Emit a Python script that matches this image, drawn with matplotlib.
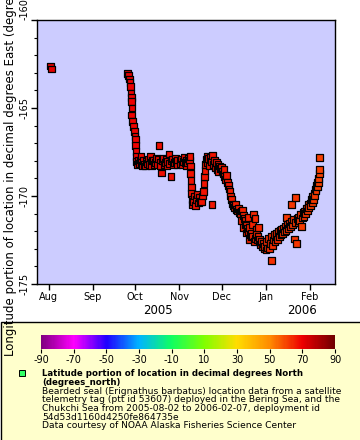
import pandas as pd
import matplotlib
matplotlib.use('Agg')
import matplotlib.pyplot as plt
from matplotlib.colors import LinearSegmentedColormap, Normalize
from matplotlib.cm import ScalarMappable
from matplotlib.patches import Rectangle
from matplotlib.lines import Line2D
from matplotlib.ticker import MultipleLocator

plt.rcParams['axes.unicode_minus'] = False

# track points per month: (day of month, longitude east, latitude north)
aug_pts = [(2.5, -162.61, 71.3), (2.7, -162.78, 71.2)]

sep_pts = [(25.6, -163.03, 70.6), (26.3, -163.15, 70.5), (26.9, -163.35, 70.4), (27.3, -163.55, 70.3),
           (27.6, -163.8, 70.2), (27.9, -164.15, 70.1), (28.2, -164.4, 70.0), (28.4, -164.65, 69.9),
           (28.6, -165.0, 69.8), (28.1, -165.4, 69.7), (29.2, -165.78, 69.6), (29.6, -166.06, 69.5),
           (30.3, -166.35, 69.4), (30.7, -166.6, 69.3)]

oct_pts = [(1.0, -166.8, 69.2), (1.3, -167.14, 69.1), (1.4, -167.48, 69.0), (1.5, -167.77, 69.0),
           (1.9, -168.05, 68.9), (2.5, -168.2, 68.9), (3.1, -168.0, 68.8), (3.7, -168.15, 68.9),
           (4.3, -167.95, 68.8), (5.0, -167.73, 68.7), (5.6, -168.1, 68.8), (6.2, -168.25, 68.7),
           (6.8, -168.0, 68.8), (7.4, -168.2, 68.7), (8.0, -168.3, 68.6), (8.7, -168.05, 68.7),
           (9.3, -168.15, 68.6), (9.9, -167.9, 68.7), (10.6, -168.2, 68.6), (11.4, -167.77, 68.5),
           (12.0, -168.1, 68.6), (12.6, -168.25, 68.5), (13.2, -168.0, 68.6), (13.9, -167.95, 68.5),
           (14.5, -168.2, 68.4), (15.1, -168.1, 68.5), (15.8, -167.85, 68.4), (16.4, -168.2, 68.5),
           (17.0, -167.9, 68.4), (17.7, -167.14, 68.2), (18.3, -168.1, 68.4), (18.9, -168.3, 68.3),
           (19.6, -168.69, 68.1), (20.2, -168.0, 68.3), (20.8, -167.85, 68.4), (21.4, -168.2, 68.3),
           (22.0, -168.1, 68.2), (22.7, -167.9, 68.3), (23.3, -168.25, 68.2), (23.9, -168.05, 68.3),
           (24.7, -167.61, 68.1), (25.3, -168.15, 68.2), (26.1, -168.9, 68.0), (26.6, -168.0, 68.2),
           (27.2, -167.9, 68.1), (27.8, -168.2, 68.2), (28.4, -168.1, 68.1), (29.0, -167.85, 68.0),
           (29.7, -168.05, 68.1), (30.3, -168.2, 68.0), (30.9, -167.95, 68.0)]

nov_pts = [(1.4, -168.0, 67.9), (2.0, -168.15, 67.9), (2.6, -167.9, 67.8), (3.2, -168.2, 67.9),
           (3.8, -168.05, 67.8), (4.4, -167.8, 67.7), (5.0, -168.1, 67.8), (5.6, -168.25, 67.7),
           (6.2, -167.95, 67.7), (6.8, -168.1, 67.6), (7.4, -167.85, 67.6), (8.0, -168.0, 67.5),
           (8.5, -167.75, 67.4), (8.8, -168.3, 67.5), (9.0, -168.7, 67.4), (9.2, -169.1, 67.3),
           (9.4, -169.5, 67.3), (9.7, -169.85, 67.2), (10.0, -170.2, 67.1), (10.4, -170.5, 67.0),
           (11.0, -170.3, 67.1), (11.6, -170.0, 67.0), (12.3, -170.55, 66.9), (13.0, -170.2, 67.0),
           (13.8, -169.9, 67.0), (14.5, -170.4, 66.9), (15.2, -170.1, 67.0), (16.0, -170.3, 66.9),
           (16.7, -170.32, 67.0), (17.3, -170.0, 67.0), (17.9, -169.75, 67.1), (18.4, -169.28, 67.1),
           (18.8, -168.9, 67.2), (19.1, -168.55, 67.2), (19.4, -168.2, 67.3), (19.8, -167.9, 67.3),
           (20.4, -167.75, 67.3), (21.0, -168.1, 67.2), (21.6, -167.85, 67.3), (22.3, -168.3, 67.2),
           (22.9, -167.8, 67.2), (23.5, -168.05, 67.1), (24.0, -170.47, 66.4), (24.6, -167.72, 67.1),
           (25.2, -168.2, 67.0), (25.8, -168.0, 67.0), (26.4, -168.4, 66.9), (27.0, -168.1, 66.9),
           (27.6, -168.5, 66.8), (28.2, -168.2, 66.8), (28.8, -168.6, 66.7), (29.4, -168.3, 66.7),
           (30.0, -168.45, 66.6)]

dec_pts = [(0.6, -168.4, 66.6), (1.2, -168.6, 66.5), (1.8, -168.75, 66.5), (2.4, -168.5, 66.4),
           (3.0, -168.9, 66.4), (3.6, -169.05, 66.3), (4.2, -168.85, 66.3), (4.8, -169.25, 66.2),
           (5.4, -169.4, 66.1), (6.0, -169.6, 66.1), (6.6, -169.75, 66.0), (7.2, -170.0, 65.9),
           (7.8, -170.2, 65.9), (8.4, -170.45, 65.8), (9.0, -170.55, 65.8), (9.6, -170.65, 65.7),
           (10.3, -170.5, 65.7), (11.0, -170.75, 65.6), (11.7, -170.85, 65.6), (12.4, -170.7, 65.5),
           (13.1, -170.95, 65.5), (13.8, -171.0, 65.4), (14.5, -171.4, 65.3), (15.0, -170.85, 65.4),
           (15.6, -170.84, 64.8), (16.0, -171.1, 65.3), (16.3, -171.8, 65.1), (16.6, -171.3, 65.2),
           (17.2, -171.4, 65.2), (17.8, -171.6, 65.1), (18.0, -172.1, 64.9), (18.4, -171.65, 65.0),
           (19.0, -171.85, 65.0), (19.3, -171.2, 65.1), (19.6, -172.0, 64.9), (20.2, -171.8, 64.9),
           (20.5, -172.5, 64.7), (20.8, -172.2, 64.8), (21.4, -172.3, 64.7), (22.0, -172.1, 64.7),
           (22.3, -171.6, 64.8), (22.6, -172.27, 64.6), (23.2, -171.02, 64.2), (23.5, -172.6, 64.5),
           (24.2, -171.3, 64.3), (24.6, -172.4, 64.5), (24.9, -171.9, 64.6), (25.2, -172.2, 64.5),
           (25.8, -172.5, 64.4), (26.4, -172.3, 64.4), (26.7, -171.8, 64.5), (27.0, -172.6, 64.3),
           (27.6, -172.45, 64.3), (28.2, -172.75, 64.2), (28.8, -172.6, 64.2), (29.4, -172.9, 64.1),
           (30.0, -172.7, 64.1), (30.6, -173.0, 64.0), (31.2, -172.85, 64.0)]

jan_pts = [(1.0, -173.07, 63.9), (1.6, -172.6, 63.9), (2.2, -172.95, 63.8), (2.8, -172.4, 63.8),
           (3.4, -172.97, 63.7), (4.0, -172.7, 63.7), (4.6, -172.3, 63.6), (5.0, -173.68, 63.2),
           (5.6, -172.8, 63.6), (6.2, -172.5, 63.5), (6.8, -172.2, 63.5), (7.4, -172.6, 63.4),
           (8.0, -172.3, 63.4), (8.5, -172.12, 63.3), (9.1, -172.45, 63.3), (9.7, -172.0, 63.2),
           (10.3, -172.3, 63.2), (10.9, -171.95, 63.1), (11.5, -172.2, 63.1), (12.1, -171.9, 63.0),
           (12.7, -172.15, 63.0), (13.3, -171.84, 62.9), (13.9, -172.05, 62.9), (14.5, -171.7, 62.8),
           (15.1, -171.95, 62.8), (15.6, -171.23, 62.4), (16.3, -171.6, 62.7), (16.9, -171.85, 62.7),
           (17.5, -171.55, 62.6), (18.1, -171.75, 62.6), (18.7, -171.45, 62.5), (19.2, -170.47, 62.1),
           (19.8, -171.65, 62.5), (20.4, -171.35, 62.4), (21.1, -172.44, 62.2), (21.7, -171.5, 62.4),
           (22.0, -170.1, 62.0), (22.3, -172.71, 62.1), (22.9, -171.3, 62.3), (23.5, -171.5, 62.3),
           (24.1, -171.2, 62.2), (24.7, -171.4, 62.2), (25.3, -171.05, 62.1), (26.2, -171.74, 61.8),
           (26.5, -171.25, 62.1), (27.1, -170.95, 62.0), (27.7, -171.15, 62.0), (28.3, -170.85, 61.9),
           (28.9, -171.0, 61.9), (29.5, -170.7, 61.8), (30.1, -170.85, 61.8), (30.7, -170.5, 61.7),
           (31.2, -170.65, 61.7)]

feb_pts = [(1.0, -170.4, 61.6), (1.5, -170.55, 61.6), (2.0, -170.2, 61.5), (2.5, -170.35, 61.5),
           (3.0, -170.0, 61.4), (3.4, -170.2, 61.4), (3.8, -169.85, 61.3), (4.3, -169.95, 61.3),
           (4.8, -169.6, 61.2), (5.2, -169.7, 61.2), (5.7, -169.4, 61.1), (6.1, -169.47, 61.1),
           (6.5, -169.2, 61.0), (6.9, -169.24, 61.0), (7.2, -169.0, 60.9), (7.5, -168.71, 60.9),
           (7.7, -168.48, 60.8), (7.9, -167.82, 60.6)]

months = [('2005-08-01', aug_pts), ('2005-09-01', sep_pts), ('2005-10-01', oct_pts),
          ('2005-11-01', nov_pts), ('2005-12-01', dec_pts), ('2006-01-01', jan_pts),
          ('2006-02-01', feb_pts)]

# colour bar palette (latitude scale)
palette_stops = [-90, -70, -50, -30, -10, 10, 30, 50, 70, 90]
palette_colors = ['#800080', '#ff00ff', '#2000ff', '#00b4ff', '#10ff60',
                  '#80ff00', '#ffdd00', '#ff8c00', '#ee0000', '#700000']

y_label = 'Longitude portion of location in decimal degrees East (degrees_east)'
legend_lines = [
    ('Latitude portion of location in decimal degrees North', 'bold'),
    ('(degrees_north)', 'bold'),
    ('Bearded seal (Erignathus barbatus) location data from a satellite', 'normal'),
    ('telemetry tag (ptt id 53607) deployed in the Bering Sea, and the', 'normal'),
    ('Chukchi Sea from 2005-08-02 to 2006-02-07, deployment id', 'normal'),
    ('54d53d1160d4250fe864735e', 'normal'),
    ('Data courtesy of NOAA Alaska Fisheries Science Center', 'normal'),
]


def build_track():
    rows = []
    for start, pts in months:
        t0 = pd.Timestamp(start)
        for day, lon, lat in pts:
            rows.append((t0 + pd.Timedelta(days=day - 1), lon, lat))
    return pd.DataFrame(rows, columns=['time', 'lon', 'lat'])


def make_cmap():
    pos = [(v + 90) / 180 for v in palette_stops]
    return LinearSegmentedColormap.from_list('rainbow2', list(zip(pos, palette_colors)))


W, H = 360, 440


def fx(px):
    return px / W


def fy(py):
    return 1 - py / H


def main():
    df = build_track()
    cmap = make_cmap()
    norm = Normalize(-90, 90)

    fig = plt.figure(figsize=(3.6, 4.4), dpi=100)

    # legend panel
    fig.add_artist(Rectangle((fx(1), -0.02), 1.05, fy(322) + 0.02, transform=fig.transFigure,
                             facecolor='#ffffcc', edgecolor='black', lw=1, zorder=-1))

    ax = fig.add_axes([fx(37), fy(284), (335 - 37) / W, (284 - 20) / H])
    ax.set_facecolor('#ccccff')
    ax.scatter(df['time'].values, df['lon'], c=df['lat'], cmap=cmap, norm=norm,
               marker='s', s=24, edgecolors='black', linewidths=0.9, zorder=3)

    ax.set_xlim(pd.Timestamp('2005-07-23 18:00'), pd.Timestamp('2006-02-18 14:00'))
    ax.set_ylim(-175, -160)

    month_starts = pd.date_range('2005-08-01', '2006-02-01', freq='MS')
    ax.set_xticks(month_starts)
    ax.set_xticklabels([d.strftime('%b') for d in month_starts])
    for d, tick in zip(month_starts, ax.xaxis.get_major_ticks()):
        if d.month == 1:
            tick.tick1line.set_markeredgewidth(2)

    ax.set_yticks([-175, -170, -165, -160])
    ax.set_yticklabels(['-175', '-170', '-165', '-160'], rotation=90, va='center')
    ax.get_yticklabels()[-1].set_va('bottom')
    ax.yaxis.set_minor_locator(MultipleLocator(1))

    ax.tick_params(which='major', direction='out', length=4, width=1, labelsize=7, pad=1.5)
    ax.tick_params(which='minor', direction='out', length=2.2, width=0.8)
    for s in ax.spines.values():
        s.set_linewidth(1)

    ax.set_ylabel(y_label, fontsize=8.5)
    ax.yaxis.set_label_coords((17 - 37) / 298, 0.5)

    fig.text(fx(158), fy(310), '2005', ha='center', va='center', fontsize=8.5)
    fig.text(fx(302.5), fy(310), '2006', ha='center', va='center', fontsize=8.5)

    # colour bar
    cax = fig.add_axes([fx(41), fy(349), 294 / W, 14 / H])
    cb = fig.colorbar(ScalarMappable(norm=norm, cmap=cmap), cax=cax, orientation='horizontal',
                      ticks=list(range(-90, 91, 20)))
    cb.outline.set_visible(False)
    cax.tick_params(length=3, width=0.8, labelsize=7, pad=1)

    # legend entry
    fig.add_artist(Line2D([fx(21.7)], [fy(373)], marker='s', ms=4, mfc='#33ff66', mec='black',
                          mew=0.7, transform=fig.transFigure))
    baselines = [376, 384.8, 393.5, 402.4, 411, 419.6, 428.3]
    for (txt, weight), yb in zip(legend_lines, baselines):
        size = 6.2 if weight == 'bold' else 6.6
        fig.text(fx(42), fy(yb), txt, ha='left', va='baseline', fontsize=size, fontweight=weight)

    fig.savefig('out.png', dpi=100)


if __name__ == '__main__':
    main()
